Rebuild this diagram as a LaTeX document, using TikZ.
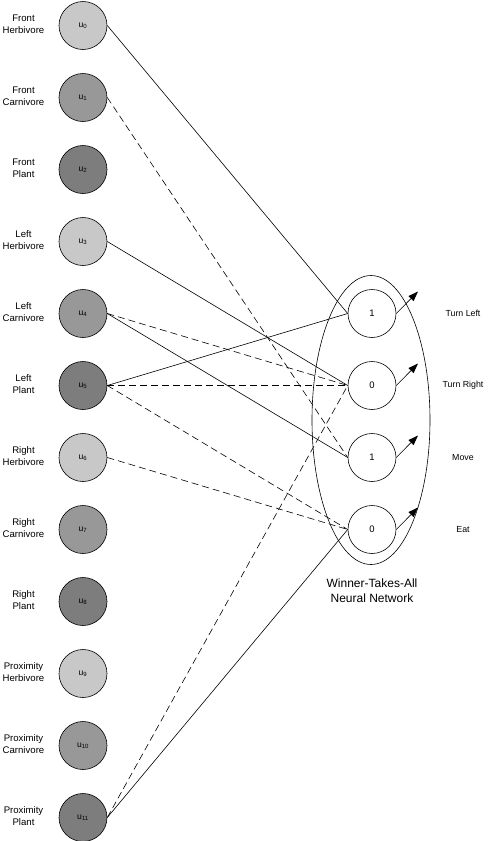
\documentclass[tikz,border=0pt]{standalone}
\usepackage{fontspec}
\setmainfont{Liberation Sans}
\usetikzlibrary{arrows.meta,shapes.geometric}
\definecolor{herb}{RGB}{200,200,200}
\definecolor{carn}{RGB}{152,152,152}
\definecolor{plnt}{RGB}{125,125,125}
\begin{document}
\begin{tikzpicture}[x=1pt,y=-1pt,
  inp/.style={circle,draw,line width=0.6pt,minimum size=48pt,inner sep=0pt,font=\fontsize{8.6}{9}\selectfont},
  outn/.style={circle,draw,line width=0.6pt,minimum size=48pt,inner sep=0pt,font=\fontsize{9.5}{10}\selectfont},
  lab/.style={align=center,font=\fontsize{9.6}{12.5}\selectfont},
  olab/.style={font=\fontsize{8.8}{10}\selectfont},
  conn/.style={line width=0.6pt},
  dconn/.style={line width=0.6pt,dash pattern=on 7pt off 4pt},
  outarr/.style={line width=0.6pt,-{Triangle[length=10pt,width=7pt]}}]
\useasboundingbox (0,0) rectangle (493,841);
% inputs
\foreach \i/\a/\b/\c in {0/Front/Herbivore/herb,1/Front/Carnivore/carn,2/Front/Plant/plnt,
  3/Left/Herbivore/herb,4/Left/Carnivore/carn,5/Left/Plant/plnt,
  6/Right/Herbivore/herb,7/Right/Carnivore/carn,8/Right/Plant/plnt,
  9/Proximity/Herbivore/herb,10/Proximity/Carnivore/carn,11/Proximity/Plant/plnt}{
  \node[inp,fill=\c] (in\i) at (83,25.5+72*\i) {u\textsubscript{\i}};
  \node[lab] (lab\i) at (23.5,24+72*\i) {\a\\\b};
}
% WTA ellipse
\node[draw,ellipse,line width=0.6pt,minimum width=118pt,minimum height=289pt,inner sep=0pt] (wta) at (371,420) {};
% outputs
\foreach \j/\v/\t in {0/1/Turn Left,1/0/Turn Right,2/1/Move,3/0/Eat}{
  \node[outn] (o\j) at (372,313.5+72*\j) {\v};
  \coordinate (a\j) at (418,291.5+72*\j);
  \draw[outarr] (o\j.east) -- (a\j);
  \node[olab] (ol\j) at (463,313.5+72*\j) {\t};
}
\node[align=center,font=\fontsize{12}{15}\selectfont] (wtalab) at (372,591) {Winner-Takes-All\\Neural Network};
% connections
\draw[conn] (in0.east) -- (o0.west);
\draw[dconn] (in1.east) -- (o2.west);
\draw[conn] (in3.east) -- (o1.west);
\draw[dconn] (in4.east) -- (o1.west);
\draw[conn] (in4.east) -- (o2.west);
\draw[conn] (in5.east) -- (o0.west);
\draw[dconn] (in5.east) -- (o1.west);
\draw[dconn] (in5.east) -- (o3.west);
\draw[dconn] (in6.east) -- (o3.west);
\draw[dconn] (in11.east) -- (o1.west);
\draw[conn] (in11.east) -- (o3.west);
\end{tikzpicture}
\end{document}
